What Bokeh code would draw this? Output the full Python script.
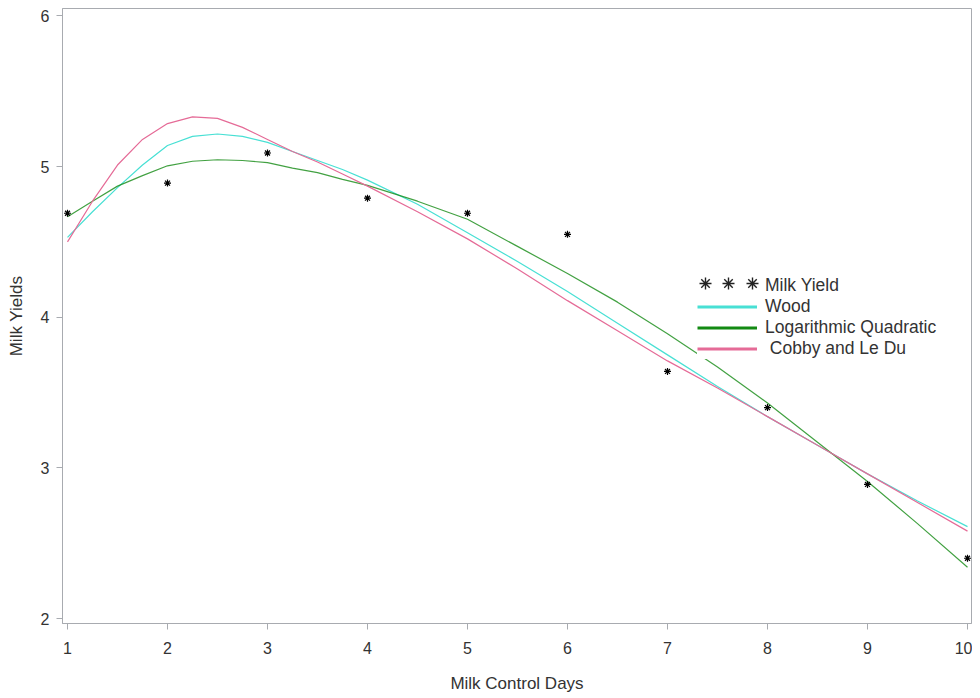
from bokeh.plotting import figure
from bokeh.models import Range1d, FixedTicker, Legend, LegendItem
from bokeh.embed import file_html
from bokeh.resources import INLINE

# ---- data ----
days = [1, 2, 3, 4, 5, 6, 7, 8, 9, 10]
milk_yield = [4.69, 4.89, 5.09, 4.79, 4.69, 4.55, 3.64, 3.40, 2.89, 2.40]

curve_x = [1, 1.25, 1.5, 1.75, 2, 2.25, 2.5, 2.75, 3, 3.25, 3.5, 3.75, 4,
           4.5, 5, 5.5, 6, 6.5, 7, 7.5, 8, 8.5, 9, 9.5, 10]
wood = [4.53, 4.70, 4.86, 5.01, 5.14, 5.20, 5.216, 5.20, 5.16, 5.10, 5.04, 4.98, 4.91,
        4.75, 4.56, 4.37, 4.17, 3.96, 3.75, 3.54, 3.34, 3.15, 2.96, 2.78, 2.61]
log_quad = [4.667, 4.77, 4.87, 4.94, 5.005, 5.035, 5.045, 5.04, 5.026, 4.99, 4.96, 4.915, 4.875,
            4.77, 4.65, 4.47, 4.29, 4.10, 3.89, 3.67, 3.43, 3.17, 2.91, 2.63, 2.34]
cobby = [4.50, 4.77, 5.01, 5.18, 5.285, 5.33, 5.32, 5.26, 5.18, 5.10, 5.03, 4.95, 4.87,
         4.70, 4.52, 4.32, 4.11, 3.91, 3.71, 3.53, 3.34, 3.15, 2.96, 2.77, 2.58]

x_ticks = [1, 2, 3, 4, 5, 6, 7, 8, 9, 10]
y_ticks = [2, 3, 4, 5, 6]

series_names = ["Milk Yield", "Wood", "Logarithmic Quadratic", " Cobby and Le Du"]

C_WOOD = "#48E0D4"
C_LOG = "#138A13"
C_COBBY = "#E56B97"
GRAY = "#A8ABB0"
TXT = "#333333"
FONT = "Liberation Sans"

p = figure(width=972, height=697, output_backend="svg", toolbar_location=None,
           x_range=Range1d(0.95, 10.04), y_range=Range1d(1.967, 6.049),
           min_border_left=62, min_border_right=1, min_border_top=8, min_border_bottom=74)

p.xgrid.visible = False
p.ygrid.visible = False
p.outline_line_color = GRAY
p.outline_line_width = 1

p.line(curve_x, wood, line_color=C_WOOD, line_width=1.2)
p.line(curve_x, log_quad, line_color=C_LOG, line_width=1.2, line_alpha=0.8)
p.line(curve_x, cobby, line_color=C_COBBY, line_width=1.2)
pts = p.scatter(days, milk_yield, marker="asterisk", size=7, line_color="black", line_width=1.2)

# legend-only renderers (thicker lines)
nan = [float("nan")]
lw = p.line(nan, nan, line_color=C_WOOD, line_width=3)
ll = p.line(nan, nan, line_color=C_LOG, line_width=3)
lc = p.line(nan, nan, line_color=C_COBBY, line_width=3)
l_blank = p.line(nan, nan, line_alpha=0)
lp = p.scatter(nan, nan, marker="asterisk", size=10, line_color="#222222", line_width=1.4)

legend = Legend(items=[LegendItem(label=series_names[0], renderers=[l_blank]),
                       LegendItem(label=series_names[1], renderers=[lw]),
                       LegendItem(label=series_names[2], renderers=[ll]),
                       LegendItem(label=series_names[3], renderers=[lc])],
                location=(635, 264))
legend.glyph_width = 60
legend.glyph_height = 21
legend.label_height = 21
legend.spacing = 0
legend.padding = 12
legend.margin = 0
legend.label_standoff = 8
legend.border_line_color = None
legend.background_fill_color = "white"
legend.background_fill_alpha = 1.0
legend.label_text_font = FONT
legend.label_text_font_size = "17.5px"
legend.label_text_color = TXT
p.add_layout(legend)

# three asterisks for the "Milk Yield" legend entry
for vx in (628, 651, 675):
    star = Legend(items=[LegendItem(label=" ", renderers=[lp])], location=(vx, 325))
    star.glyph_width = 30
    star.glyph_height = 30
    star.label_height = 30
    star.label_standoff = 0
    star.padding = 0
    star.margin = 0
    star.border_line_color = None
    star.background_fill_alpha = 0
    star.label_text_font_size = "2px"
    p.add_layout(star)

for ax, ticks in ((p.xaxis[0], x_ticks), (p.yaxis[0], y_ticks)):
    ax.ticker = FixedTicker(ticks=ticks)
    ax.minor_tick_line_color = None
    ax.major_tick_in = 0
    ax.major_tick_out = 6
    ax.major_tick_line_color = GRAY
    ax.axis_line_color = GRAY
    ax.major_label_text_font = FONT
    ax.major_label_text_font_size = "16px"
    ax.major_label_text_color = TXT
    ax.axis_label_text_font = FONT
    ax.axis_label_text_font_size = "17px"
    ax.axis_label_text_font_style = "normal"
    ax.axis_label_text_color = TXT

p.xaxis[0].axis_label = "Milk Control Days"
p.yaxis[0].axis_label = "Milk Yields"
p.xaxis[0].major_label_standoff = 12
p.xaxis[0].axis_label_standoff = 17
p.yaxis[0].major_label_standoff = 7
p.yaxis[0].axis_label_standoff = 12

open("out.html", "w").write(file_html(p, INLINE))
